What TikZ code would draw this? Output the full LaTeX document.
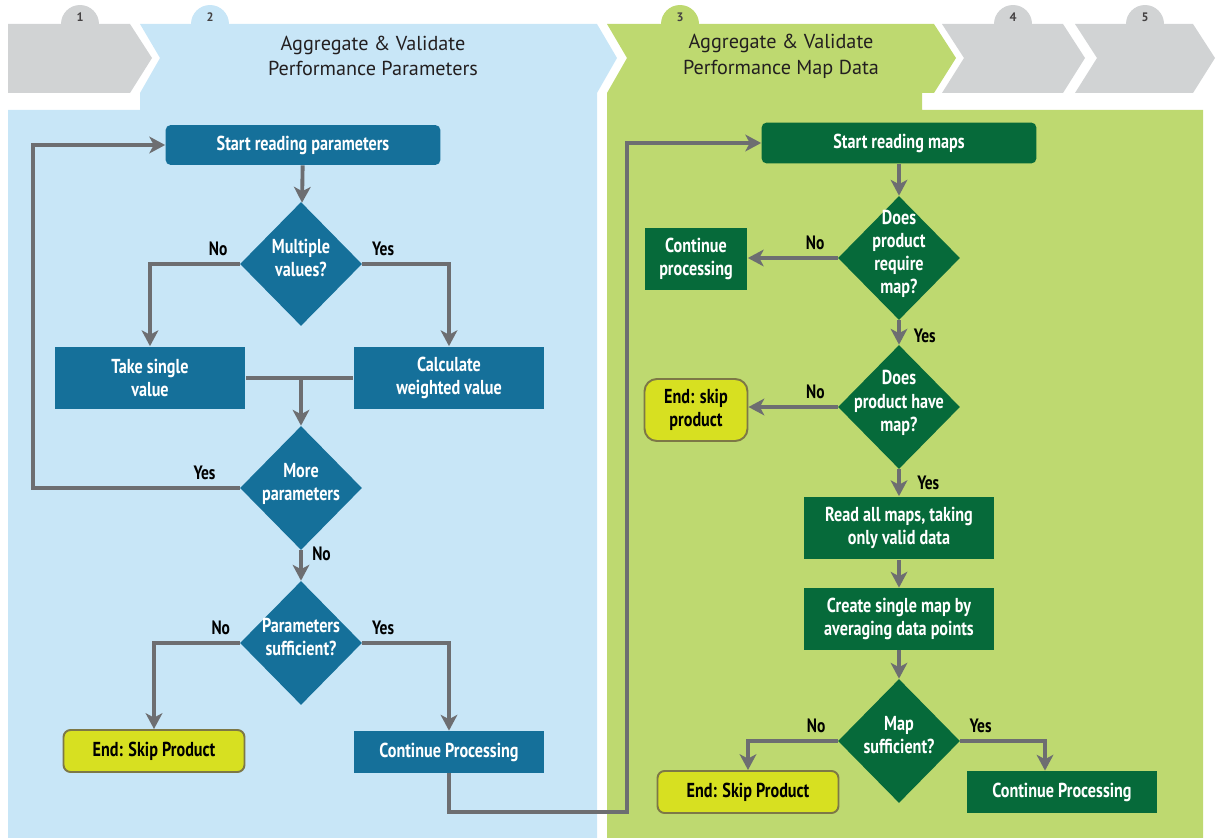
\documentclass[tikz,border=0pt]{standalone}
\usepackage{fontspec}
\setmainfont{PT Sans}
\newfontfamily\condfont[FakeStretch=0.8]{PT Sans}
\usetikzlibrary{shapes.geometric,arrows.meta}

\definecolor{panelblue}{RGB}{200,230,247}
\definecolor{panelgreen}{RGB}{190,217,112}
\definecolor{chevgrey}{RGB}{209,211,212}
\definecolor{boxblue}{RGB}{21,112,154}
\definecolor{boxgreen}{RGB}{6,106,58}
\definecolor{endyellow}{RGB}{215,224,33}
\definecolor{endedge}{RGB}{125,120,70}
\definecolor{flowgrey}{RGB}{109,110,113}
\definecolor{headtext}{RGB}{35,31,32}

% diamond text that does not widen the diamond
\newcommand{\dtext}[1]{\raisebox{-2pt}{\smash{\begin{tabular}{@{}c@{}}#1\end{tabular}}}}

\tikzset{
  box/.style={font=\condfont\bfseries\fontsize{11.5}{13}\selectfont, text=white, align=center, inner sep=0pt},
  bluebox/.style={box, fill=boxblue},
  greenbox/.style={box, fill=boxgreen},
  endbox/.style={box, text=black, fill=endyellow, draw=endedge, line width=1.1pt, rounded corners=4pt},
  dec/.style={diamond, inner sep=0pt, minimum width=2.44cm, minimum height=2.48cm,
    font=\condfont\bfseries\fontsize{11.5}{13.2}\selectfont, text=white},
  lbl/.style={font=\condfont\bfseries\fontsize{11}{12}\selectfont, text=black},
  headtxt/.style={font=\fontsize{11.5}{14.7}\selectfont, text=headtext, align=center},
  tabnum/.style={font=\bfseries\fontsize{7}{8}\selectfont, text=headtext!85},
  flow/.style={draw=flowgrey, line width=2.2pt, -{Stealth[length=9pt,width=9.5pt,inset=2.5pt]}},
  joint/.style={draw=flowgrey, line width=2.2pt}
}

\begin{document}
\begin{tikzpicture}[x=0.02cm, y=-0.02cm]
  \useasboundingbox (0,0) rectangle (1221,838);

  % tabs
  \fill[chevgrey] (80,24) circle (0.38cm);
  \fill[panelblue] (210,24) circle (0.38cm);
  \fill[panelgreen] (680,24) circle (0.38cm);
  \fill[chevgrey] (1013,24) circle (0.38cm);
  \fill[chevgrey] (1145,24) circle (0.38cm);

  % chevrons and panels
  \fill[chevgrey] (8,24) -- (130,24) -- (152,58) -- (130,93) -- (8,93) -- cycle;
  \fill[panelblue] (140,24) -- (597,24) -- (617,58) -- (597,93) -- (597,838) -- (8,838)
    -- (8,110) -- (140,110) -- (140,93) -- (160,58) -- cycle;
  \fill[panelgreen] (607,24) -- (934,24) -- (956,58) -- (934,93) -- (922,93) -- (922,110)
    -- (1203,110) -- (1203,838) -- (607,838) -- (607,93) -- (627,58) -- cycle;
  \fill[chevgrey] (942,24) -- (1063,24) -- (1085,58) -- (1063,93) -- (942,93) -- (964,58) -- cycle;
  \fill[chevgrey] (1075,24) -- (1193,24) -- (1215,58) -- (1193,93) -- (1075,93) -- (1097,58) -- cycle;

  \node[tabnum] (n1) at (80,17) {1};
  \node[tabnum] (n2) at (210,17) {2};
  \node[tabnum] (n3) at (680,17) {3};
  \node[tabnum] (n4) at (1013,17) {4};
  \node[tabnum] (n5) at (1145,17) {5};

  \node[headtxt] (hd2) at (373,56) {Aggregate \& Validate\\Performance Parameters};
  \node[headtxt] (hd3) at (781,56) {Aggregate \& Validate\\Performance Map Data};

  % parameters
  \node[bluebox, rounded corners=3pt, minimum width=5.5cm, minimum height=0.8cm] (srp) at (303,145) {Start reading parameters};
  \node[dec, fill=boxblue] (mv) at (301,264) {\dtext{Multiple\\values?}};
  \node[bluebox, minimum width=3.82cm, minimum height=1.26cm] (tsv) at (150,378) {Take single\\value};
  \node[bluebox, minimum width=3.82cm, minimum height=1.26cm] (cwv) at (449,378) {Calculate\\weighted value};
  \node[dec, fill=boxblue] (mp) at (301,488) {\dtext{More\\parameters}};
  \node[dec, fill=boxblue] (psf) at (301,643) {\dtext{Parameters\\sufficient?}};
  \node[endbox, minimum width=3.62cm, minimum height=0.84cm] (esb) at (154,751) {End: Skip Product};
  \node[bluebox, minimum width=3.82cm, minimum height=0.84cm] (cpb) at (449,752) {Continue Processing};

  \coordinate (loopL) at (33,488);
  \coordinate (jointR) at (627,812);

  \draw[flow] (srp) -- (mv);
  \draw[flow] (mv.west) -| node[lbl, pos=0.12, above] {No} (tsv);
  \draw[flow] (mv.east) -| node[lbl, pos=0.12, above] {Yes} (cwv);
  \draw[joint] (tsv.east) -- (cwv.west);
  \draw[flow] (tsv.east -| mp.north) -- (mp);
  \draw[flow] (mp.west) -- node[lbl, pos=0.17, above] {Yes} (loopL) |- (srp);
  \draw[flow] (mp) -- node[lbl, pos=0.1, right, xshift=2pt] {No} (psf);
  \draw[flow] (psf.west) -| node[lbl, pos=0.11, above] {No} (esb);
  \draw[flow] (psf.east) -| node[lbl, pos=0.12, above] {Yes} (cpb);

  % maps
  \node[greenbox, rounded corners=3pt, minimum width=5.5cm, minimum height=0.82cm] (srm) at (899,143) {Start reading maps};
  \node[dec, fill=boxgreen] (rpm) at (899,258) {\dtext{Does\\product\\require\\map?}};
  \node[greenbox, minimum width=2.06cm, minimum height=1.24cm] (cpr) at (696,259) {Continue\\processing};
  \node[dec, fill=boxgreen] (hpm) at (899,407) {\dtext{Does\\product have\\map?}};
  \node[endbox, rounded corners=7pt, minimum width=2.06cm, minimum height=1.24cm] (esp) at (696,410) {End: skip\\product};
  \node[greenbox, minimum width=3.82cm, minimum height=1.26cm] (ram) at (899,528) {Read all maps, taking\\only valid data};
  \node[greenbox, minimum width=3.82cm, minimum height=1.24cm] (csm) at (899,619) {Create single map by\\averaging data points};
  \node[dec, fill=boxgreen] (msf) at (899,741) {\dtext{Map\\sufficient?}};
  \node[endbox, minimum width=3.62cm, minimum height=0.84cm] (esg) at (748,792) {End: Skip Product};
  \node[greenbox, minimum width=3.8cm, minimum height=0.84cm] (cpg) at (1062,792) {Continue Processing};

  \draw[flow] (cpb) |- (jointR) |- (srm);
  \draw[flow] (srm) -- (rpm);
  \draw[flow] (rpm.west) -- node[lbl, pos=0.25, above] {No} (cpr.east |- rpm.west);
  \draw[flow] (rpm) -- node[lbl, pos=0.65, right, xshift=4pt] {Yes} (hpm);
  \draw[flow] (hpm.west) -- node[lbl, pos=0.25, above] {No} (esp.east |- hpm.west);
  \draw[flow] (hpm) -- node[lbl, pos=0.5, right, xshift=6pt] {Yes} (ram);
  \draw[flow] (ram) -- (csm);
  \draw[flow] (csm) -- (msf);
  \draw[flow] (msf.west) -| node[lbl, pos=0.12, above] {No} (esg);
  \draw[flow] (msf.east) -| node[lbl, pos=0.12, above] {Yes} ([xshift=-0.34cm]cpg.north);
\end{tikzpicture}
\end{document}
